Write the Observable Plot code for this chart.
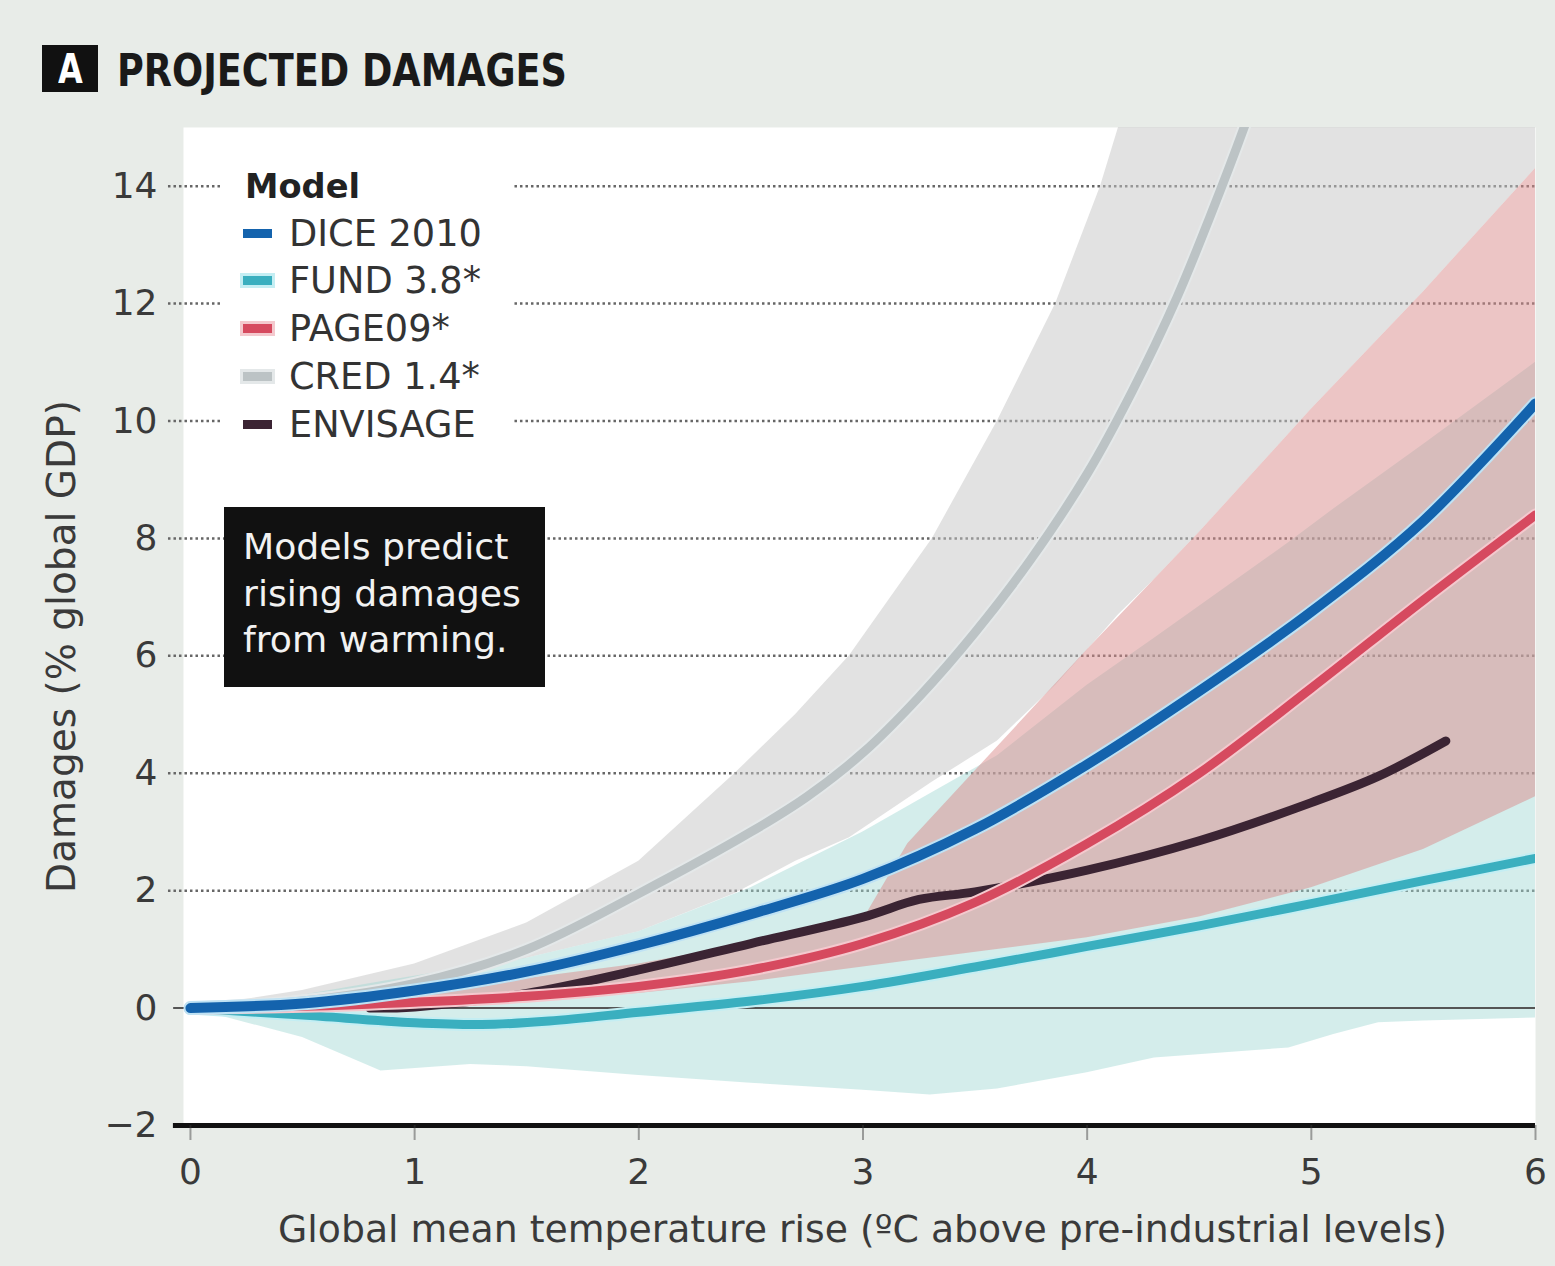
<!DOCTYPE html>
<html>
<head>
<meta charset="utf-8">
<script src="https://cdn.jsdelivr.net/npm/d3@7"></script>
<script src="https://cdn.jsdelivr.net/npm/@observablehq/plot@0.6"></script>
<style>
  html, body { margin: 0; padding: 0; background: #e8ece8; }
  #page { position: relative; width: 1555px; height: 1266px; overflow: hidden; font-family: "DejaVu Sans", sans-serif; }
  #chart { position: absolute; left: 0; top: 0; }
  .abs { position: absolute; white-space: nowrap; line-height: 1; }
  #abox { left: 42px; top: 45px; width: 56px; height: 47px; background: #111; color: #fff; font-weight: bold; text-align: center; }
  #legend { left: 222px; top: 150px; width: 290px; height: 298px; background: #fff; }
  #note { left: 224px; top: 507px; width: 321px; height: 180px; background: #111; }
  .sw { position: absolute; width: 29px; height: 9px; }
</style>
</head>
<body>
<div id="page">
  <div id="chart"></div>
  <div id="abox" class="abs"><span id="aletter">A</span></div>
  <div id="title" class="abs">PROJECTED DAMAGES</div>
  <div id="legend" class="abs"></div>
  <div id="note" class="abs"></div>
</div>
<script>
// ---------------- data ----------------
const xTicks = [0, 1, 2, 3, 4, 5, 6];
const yTicks = [-2, 0, 2, 4, 6, 8, 10, 12, 14];
const gridTicks = [2, 4, 6, 8, 10, 12, 14];

const models = ["DICE 2010", "FUND 3.8*", "PAGE09*", "CRED 1.4*", "ENVISAGE"];
const modelColors = ["#1463ad", "#3aafbf", "#d64a5f", "#bcc3c5", "#3b2433"];
const haloColors = ["#bfe2f4", "#c4eef3", "#f4c9ce", "#e4e8e9", "#8a7a86"];

const diceT = [0, 0.5, 1, 1.5, 2, 2.5, 3, 3.5, 4, 4.5, 5, 5.5, 6];
const diceD = [0, 0.08, 0.3, 0.62, 1.07, 1.6, 2.2, 3.05, 4.15, 5.4, 6.75, 8.3, 10.3];

const fundT = [0, 0.5, 1, 1.3, 1.6, 2, 2.5, 3, 3.5, 4, 4.5, 5, 5.5, 6];
const fundD = [0, -0.12, -0.25, -0.28, -0.22, -0.07, 0.12, 0.37, 0.7, 1.05, 1.4, 1.78, 2.17, 2.55];

const pageT = [0, 0.5, 1, 1.5, 2, 2.5, 3, 3.5, 4, 4.5, 5, 5.5, 6];
const pageD = [0, 0.03, 0.1, 0.2, 0.37, 0.65, 1.1, 1.8, 2.8, 4.0, 5.45, 6.95, 8.4];

const credT = [0, 0.5, 1, 1.5, 2, 2.5, 2.75, 3.0, 3.25, 3.5, 3.75, 4.0, 4.2, 4.4, 4.55, 4.7, 4.8];
const credD = [0, 0.12, 0.42, 1.0, 1.95, 3.0, 3.6, 4.35, 5.3, 6.4, 7.65, 9.1, 10.5, 12.1, 13.5, 15.0, 16.1];

const envT = [0.8, 1, 1.5, 2, 2.5, 3, 3.25, 3.5, 4, 4.5, 5, 5.3, 5.6];
const envD = [0, 0.02, 0.25, 0.65, 1.1, 1.55, 1.85, 1.98, 2.35, 2.85, 3.5, 3.95, 4.55];

// uncertainty ranges
const fundBandT  = [0, 0.5, 0.85, 1.25, 1.5, 2, 2.5, 3, 3.3, 3.6, 4, 4.3, 4.9, 5.1, 5.3, 5.5, 6];
const fundBandLo = [0, -0.5, -1.07, -0.96, -1.0, -1.15, -1.28, -1.4, -1.48, -1.38, -1.1, -0.85, -0.68, -0.45, -0.25, -0.22, -0.17];
const fundBandHi = [0, 0.22, 0.45, 0.7, 0.85, 1.3, 2.05, 3.0, 3.65, 4.3, 5.5, 6.3, 7.93, 8.5, 9.05, 9.6, 11.0];

const pageBandT  = [0, 1, 2, 2.5, 3, 3.2, 4, 4.5, 5, 5.5, 6];
const pageBandLo = [0, 0.02, 0.25, 0.45, 0.7, 0.8, 1.2, 1.55, 2.05, 2.7, 3.6];
const pageBandHi = [0, 0.25, 0.75, 1.1, 1.5, 2.8, 6.1, 8.1, 10.2, 12.2, 14.3];

const credBandT  = [0, 0.5, 1, 1.5, 2, 2.43, 2.7, 2.94, 3.31, 3.6, 3.86, 4.06, 4.14, 4.3, 4.5, 5, 5.5, 6];
const credBandLo = [0, 0.22, 0.45, 0.85, 1.3, 1.95, 2.5, 2.9, 3.85, 4.55, 5.5, 6.35, 6.7, 7.3, 8.1, 10.2, 12.2, 14.3];
const credBandHi = [0, 0.3, 0.75, 1.45, 2.5, 4, 5, 6, 8, 10, 12, 14, 15, 16.5, 17, 17, 17, 17];

const xLabel = "Global mean temperature rise (ºC above pre-industrial levels)";
const yLabel = "Damages (% global GDP)";
const titleText = "PROJECTED DAMAGES";
const noteLines = ["Models predict", "rising damages", "from warming."];
const legendTitle = "Model";

// ---------------- helpers ----------------
const FONT = "DejaVu Sans";
const ctx = document.createElement("canvas").getContext("2d");
function tw(t, weight, size, family) { ctx.font = `${weight} ${size}px "${family}"`; return ctx.measureText(t).width; }
function fitSize(t, weight, target, family = FONT) { return 100 * target / tw(t, weight, 100, family); }

const rows = (xs, ys) => xs.map((x, i) => ({x, y: ys[i]}));
const bandRows = (xs, lo, hi) => xs.map((x, i) => ({x, lo: lo[i], hi: hi[i]}));

const series = [
  {name: models[3], data: rows(credT, credD), color: modelColors[3], halo: haloColors[3], w: 9},
  {name: models[1], data: rows(fundT, fundD), color: modelColors[1], halo: haloColors[1], w: 9},
  {name: models[4], data: rows(envT, envD), color: modelColors[4], halo: null, w: 9},
  {name: models[2], data: rows(pageT, pageD), color: modelColors[2], halo: haloColors[2], w: 9},
  {name: models[0], data: rows(diceT, diceD), color: modelColors[0], halo: haloColors[0], w: 10}
];

const tickFs = 36;
const xLabelFs = fitSize(xLabel, "normal", 1169);
const yLabelFs = fitSize(yLabel, "normal", 493);

const lineMarks = [];
for (const s of series) {
  if (s.halo) lineMarks.push(Plot.line(s.data, {x: "x", y: "y", stroke: s.halo, strokeWidth: s.w + 4, curve: "catmull-rom", clip: true, strokeLinecap: "round"}));
  lineMarks.push(Plot.line(s.data, {x: "x", y: "y", stroke: s.color, strokeWidth: s.w, curve: "catmull-rom", clip: true, strokeLinecap: "round"}));
}

const chart = Plot.plot({
  width: 1555,
  height: 1266,
  marginLeft: 183,
  marginRight: 20,
  marginTop: 127,
  marginBottom: 141,
  style: {background: "transparent", fontFamily: FONT, overflow: "visible"},
  x: {domain: [-0.031, 6], label: null},
  y: {domain: [-2, 15], label: null},
  marks: [
    Plot.frame({fill: "white", stroke: "none"}),
    Plot.ruleY(gridTicks, {x1: -0.098, x2: 6, stroke: "#666", strokeWidth: 2.5, strokeDasharray: "2.5,3"}),
    Plot.areaY(bandRows(credBandT, credBandLo, credBandHi), {x: "x", y1: "lo", y2: "hi", fill: "#c6c6c6", fillOpacity: 0.5, clip: true}),
    Plot.areaY(bandRows(fundBandT, fundBandLo, fundBandHi), {x: "x", y1: "lo", y2: "hi", fill: "#9fd6d3", fillOpacity: 0.45, clip: true}),
    Plot.areaY(bandRows(pageBandT, pageBandLo, pageBandHi), {x: "x", y1: "lo", y2: "hi", fill: "#d98c8c", fillOpacity: 0.5, clip: true}),
    Plot.ruleY([0], {x1: -0.075, x2: 6, stroke: "#555", strokeWidth: 2}),
    ...lineMarks,
    Plot.ruleY([-2], {x1: -0.076, x2: 6, stroke: "#111", strokeWidth: 5}),
    Plot.axisY({ticks: yTicks, tickSize: 0, tickPadding: 26, fontSize: tickFs, color: "#3a3a3a", label: null}),
    Plot.axisX({ticks: xTicks, tickFormat: "d", tickSize: 15, tickPadding: 18, fontSize: tickFs, color: "#3a3a3a", strokeWidth: 2, strokeOpacity: 0.45, label: null}),
    Plot.text([xLabel], {text: d => d, frameAnchor: "bottom", dx: 3, dy: 104, fontSize: xLabelFs, fill: "#3a3a3a", textAnchor: "middle", lineAnchor: "middle"}),
    Plot.text([yLabel], {text: d => d, frameAnchor: "left", dx: -121, dy: 20, rotate: -90, fontSize: yLabelFs, fill: "#3a3a3a", textAnchor: "middle", lineAnchor: "middle"})
  ]
});
document.getElementById("chart").appendChild(chart);

// ---------------- title ----------------
const TITLE_FAMILY = "DejaVu Sans";
const titleFs = 44;
const title = document.getElementById("title");
title.style.fontFamily = `"${TITLE_FAMILY}"`;
title.style.fontWeight = "bold";
title.style.fontSize = titleFs + "px";
title.style.color = "#1a1a1a";
title.style.left = "117px";
title.style.top = (86 - 0.846 * titleFs) + "px";
title.style.transformOrigin = "0 0";
title.style.transform = `scaleX(${450 / tw(titleText, "bold", titleFs, TITLE_FAMILY)})`;

const al = document.getElementById("aletter");
al.style.fontSize = "40px";
al.style.display = "inline-block";
al.style.marginTop = "4px";
al.style.transform = "scaleX(0.8)";

// ---------------- legend ----------------
const legend = document.getElementById("legend");
const lgLeft = 222, lgTop = 150;
const legFs = fitSize("DICE 2010", "normal", 193);
const ttlFs = fitSize(legendTitle, "bold", 115);
function addText(parent, txt, x, baseline, fs, weight, color, pl, pt) {
  const d = document.createElement("div");
  d.className = "abs";
  d.textContent = txt;
  d.style.left = (x - pl) + "px";
  d.style.top = (baseline - 0.846 * fs - pt) + "px";
  d.style.fontSize = fs + "px";
  d.style.fontWeight = weight;
  d.style.color = color;
  parent.appendChild(d);
}
addText(legend, legendTitle, 245, 198, ttlFs, "bold", "#222", lgLeft, lgTop);
const baselines = [247, 294, 342, 390, 438];
models.forEach((m, i) => {
  const sw = document.createElement("div");
  sw.className = "sw";
  sw.style.left = (243 - lgLeft) + "px";
  sw.style.top = (baselines[i] - 14 - 4.5 - lgTop) + "px";
  sw.style.background = modelColors[i];
  if (i === 1 || i === 2 || i === 3) sw.style.boxShadow = `0 0 0 3px ${haloColors[i]}`;
  legend.appendChild(sw);
  addText(legend, m, 289, baselines[i], legFs, "normal", "#333", lgLeft, lgTop);
});

// ---------------- annotation ----------------
const note = document.getElementById("note");
const noteFs = fitSize(noteLines[1], "normal", 278);
[560, 607, 653].forEach((b, i) => addText(note, noteLines[i], 243, b, noteFs, "normal", "#f2f2f2", 224, 507));
</script>
</body>
</html>
